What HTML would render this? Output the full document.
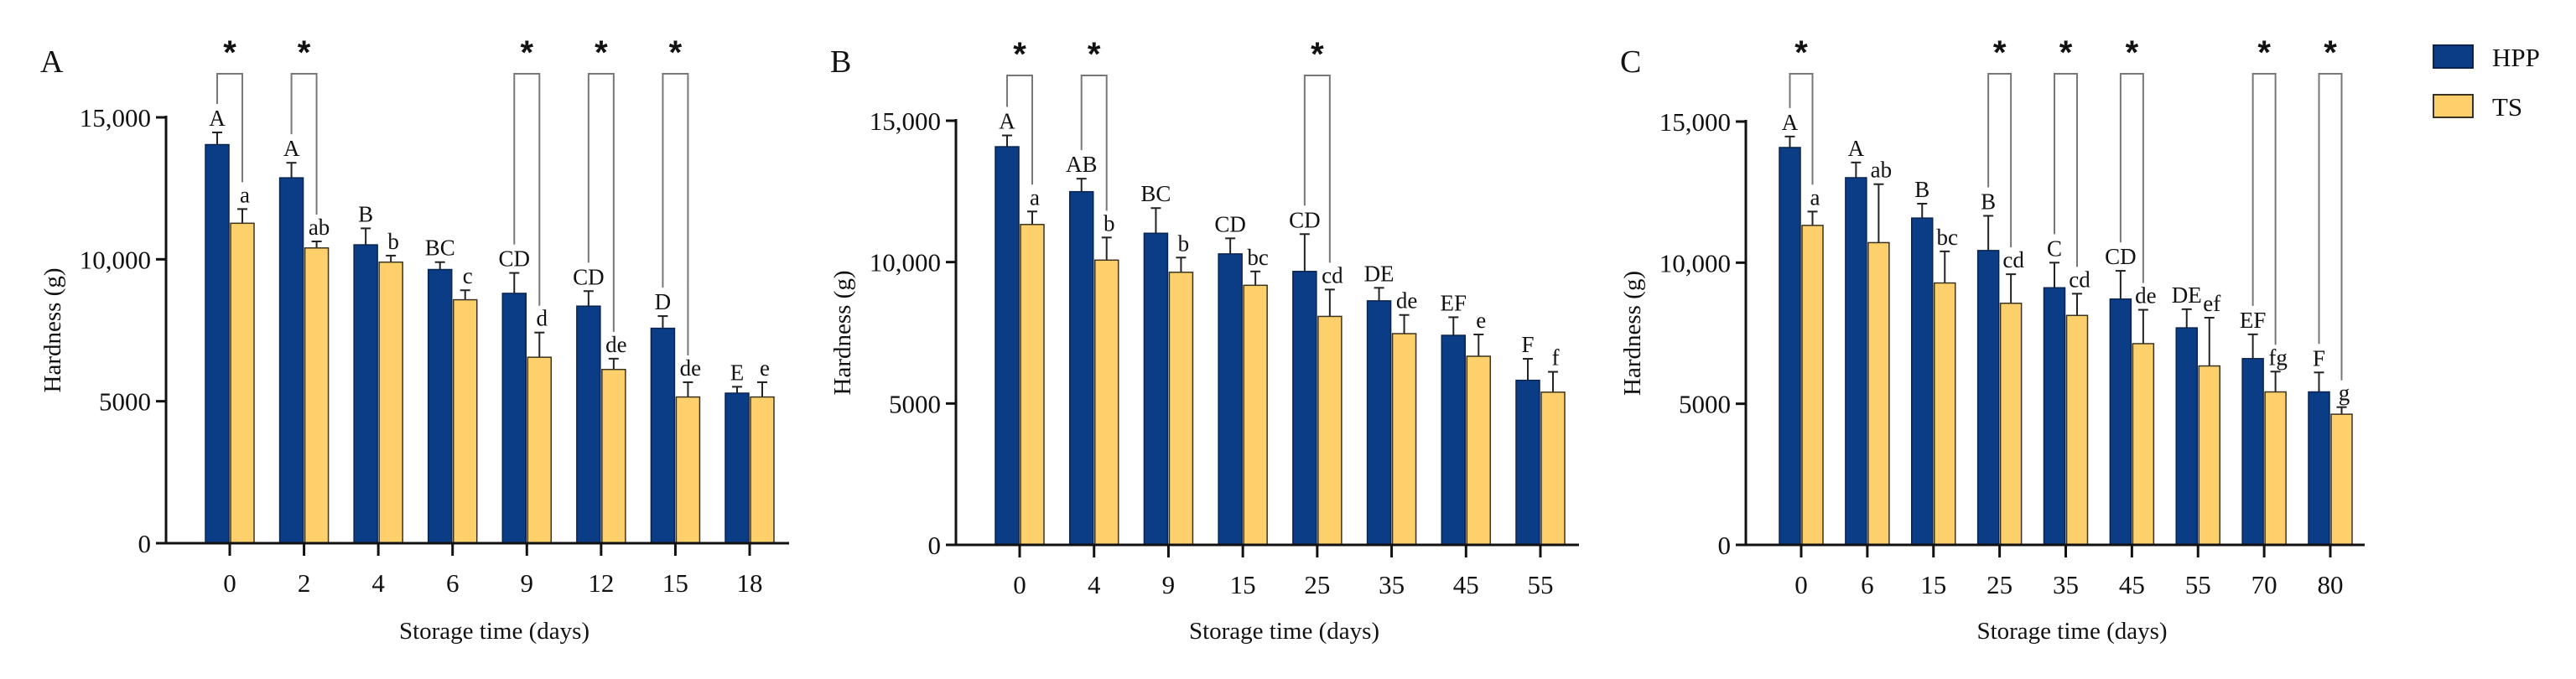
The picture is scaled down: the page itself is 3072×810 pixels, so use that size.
<!DOCTYPE html>
<html><head><meta charset="utf-8">
<style>
html,body{margin:0;padding:0;background:#fff;}
svg{display:block;font-family:"Liberation Serif",serif;}
</style></head>
<body>
<svg id="chart" width="3072" height="810" viewBox="0 0 3072 810" xmlns="http://www.w3.org/2000/svg"></svg>
<script>
// Panel A data
const catsA = ['0','2','4','6','9','12','15','18'];
const hppA = [14040,12870,10510,9640,8800,8350,7570,5285];
const hppErrA = [430,530,580,260,720,530,430,225];
const tsA = [11270,10400,9900,8575,6550,6120,5150,5150];
const tsErrA = [500,230,230,335,870,380,520,520];
const hppLetA = ['A','A','B','BC','CD','CD','D','E'];
const tsLetA = ['a','ab','b','c','d','de','de','e'];
const sigA = [1,1,0,0,1,1,1,0];
// Panel B data
const catsB = ['0','4','9','15','25','35','45','55'];
const hppB = [14080,12490,11020,10290,9670,8630,7410,5820];
const hppErrB = [400,460,890,550,1320,460,640,760];
const tsB = [11330,10070,9640,9180,8080,7470,6670,5400];
const tsErrB = [460,800,520,490,950,660,770,720];
const hppLetB = ['A','AB','BC','CD','CD','DE','EF','F'];
const tsLetB = ['a','b','b','bc','cd','de','e','f'];
const sigB = [1,1,0,0,1,0,0,0];
// Panel C data
const catsC = ['0','6','15','25','35','45','55','70','80'];
const hppC = [14080,13010,11580,10430,9110,8710,7690,6600,5420];
const hppErrC = [390,540,510,1230,890,1000,660,860,690];
const tsC = [11320,10710,9280,8560,8130,7130,6340,5420,4630];
const tsErrC = [490,2070,1120,1030,770,1200,1710,720,250];
const hppLetC = ['A','A','B','B','C','CD','DE','EF','F'];
const tsLetC = ['a','ab','bc','cd','cd','de','ef','fg','g'];
const sigC = [1,0,0,1,1,1,0,1,1];
const yTicks = [0,5000,10000,15000];
const yTickLabels = ['0','5000','10,000','15,000'];

const NS = 'http://www.w3.org/2000/svg';
const svg = document.getElementById('chart');
function mk(tag, attrs, parent, text){
  const e = document.createElementNS(NS, tag);
  for (const k in attrs) e.setAttribute(k, attrs[k]);
  if (text !== undefined) e.textContent = text;
  (parent || svg).appendChild(e);
  return e;
}
const HPP_COL = '#0b3c86', TS_COL = '#fdd06b';

function panel(cfg){
  const g = mk('g', {});
  
  
  const y0 = cfg.zero, yTop = cfg.top;
  const ys = v => y0 - (v / 15000) * (y0 - yTop);
  const n = cfg.cats.length;
  const xs = i => cfg.firstTick + i * (cfg.lastTick - cfg.firstTick) / (n - 1);
  const w = cfg.barW;
  const pl = mk('text', {x: cfg.axisX - 150, y: 86, 'font-size': 38, fill: '#111'}, g, cfg.id);
  
  
  const yt = mk('text', {x: 0, y: 0, 'font-size': 29, fill: '#111', 'text-anchor': 'middle', transform: `translate(${cfg.axisX - 126},${(y0+yTop)/2})  rotate(-90)`}, g, 'Hardness (g)');
  
  
  for (let i = 0; i < n; i++){
    const cx = xs(i);
    const hx = cx - w - 1, tx = cx + 1;
    [[hx, cfg.hpp[i], cfg.hppErr[i]], [tx, cfg.ts[i], cfg.tsErr[i]]].forEach(([bx, v, e]) => {
      const mid = bx + w/2;
      mk('line', {x1: mid, x2: mid, y1: ys(v), y2: ys(v+e), stroke: '#222', 'stroke-width': 2}, g);
      mk('line', {x1: mid-6, x2: mid+6, y1: ys(v+e), y2: ys(v+e), stroke: '#222', 'stroke-width': 2}, g);
    });
    const hb = mk('rect', {x: hx, y: ys(cfg.hpp[i]), width: w, height: y0 - ys(cfg.hpp[i]), fill: HPP_COL, stroke: '#0a2450', 'stroke-width': 1.5}, g);
    
    
    const tb = mk('rect', {x: tx, y: ys(cfg.ts[i]), width: w, height: y0 - ys(cfg.ts[i]), fill: TS_COL, stroke: '#3a3320', 'stroke-width': 1.5}, g);
    
    
    const hY = ys(cfg.hpp[i] + cfg.hppErr[i]) - 8;
    const tY = ys(cfg.ts[i] + cfg.tsErr[i]) - 8;
    const hl = mk('text', {x: hx + w/2, y: hY, 'font-size': 27, 'text-anchor': 'middle', fill: '#111'}, g, cfg.hppLet[i]);
    
    
    const tl = mk('text', {x: tx + w/2 + 3, y: tY, 'font-size': 27, 'text-anchor': 'middle', fill: '#111'}, g, cfg.tsLet[i]);
    
    
    if (cfg.sig[i]){
      const bt = cfg.bracketTop;
      const lx = hx + w/2, rx = tx + w/2;
      const br = mk('polyline', {points: `${lx},${hY-26} ${lx},${bt} ${rx},${bt} ${rx},${tY-24}`, fill: 'none', stroke: '#777', 'stroke-width': 2}, g);
      
      
      const st = mk('text', {x: cx, y: bt - 12, 'font-size': 40, 'font-weight': 'bold', 'text-anchor': 'middle', fill: '#111', 'font-family': 'Liberation Sans, sans-serif'}, g, '*');
      
      
    }
    mk('line', {x1: cx, x2: cx, y1: y0, y2: y0 + 15, stroke: '#111', 'stroke-width': 3}, g);
    const xl = mk('text', {x: cx, y: y0 + 58, 'font-size': 31, 'text-anchor': 'middle', fill: '#111'}, g, cfg.cats[i]);
    
    
  }
  const ya = mk('line', {x1: cfg.axisX, x2: cfg.axisX, y1: yTop - 2, y2: y0 + 1.5, stroke: '#111', 'stroke-width': 3}, g);
  
  
  const xa = mk('line', {x1: cfg.axisX - 1.5, x2: cfg.axisEnd, y1: y0, y2: y0, stroke: '#111', 'stroke-width': 3}, g);
  
  
  yTicks.forEach((t, k) => {
    mk('line', {x1: cfg.axisX - 12, x2: cfg.axisX, y1: ys(t), y2: ys(t), stroke: '#111', 'stroke-width': 3}, g);
    const tl = mk('text', {x: cfg.axisX - 18, y: ys(t) + 11, 'font-size': 31, 'text-anchor': 'end', fill: '#111'}, g, yTickLabels[k]);
    
    
  });
  const xt = mk('text', {x: (cfg.axisX + cfg.axisEnd)/2 + 20, y: 762, 'font-size': 29, 'text-anchor': 'middle', fill: '#111'}, g, 'Storage time (days)');
  
  
}

panel({id:'A', cats:catsA, hpp:hppA, hppErr:hppErrA, ts:tsA, tsErr:tsErrA, hppLet:hppLetA, tsLet:tsLetA, sig:sigA,
  axisX:198, axisEnd:941, zero:648, top:140, firstTick:274, lastTick:894, barW:28, bracketTop:88});
panel({id:'B', cats:catsB, hpp:hppB, hppErr:hppErrB, ts:tsB, tsErr:tsErrB, hppLet:hppLetB, tsLet:tsLetB, sig:sigB,
  axisX:1140, axisEnd:1883, zero:650, top:144, firstTick:1216, lastTick:1837, barW:28, bracketTop:90});
panel({id:'C', cats:catsC, hpp:hppC, hppErr:hppErrC, ts:tsC, tsErr:tsErrC, hppLet:hppLetC, tsLet:tsLetC, sig:sigC,
  axisX:2082, axisEnd:2820, zero:650, top:145, firstTick:2148, lastTick:2779, barW:25, bracketTop:88});

const lg = mk('g', {});


const r1 = mk('rect', {x: 2902, y: 54, width: 47, height: 27, fill: HPP_COL, stroke: '#0a2450', 'stroke-width': 2}, lg);


const t1 = mk('text', {x: 2972, y: 79, 'font-size': 31, fill: '#111'}, lg, 'HPP');


const r2 = mk('rect', {x: 2902, y: 113, width: 47, height: 27, fill: TS_COL, stroke: '#3a3320', 'stroke-width': 2}, lg);


const t2 = mk('text', {x: 2972, y: 138, 'font-size': 31, fill: '#111'}, lg, 'TS');


</script>
</body></html>
